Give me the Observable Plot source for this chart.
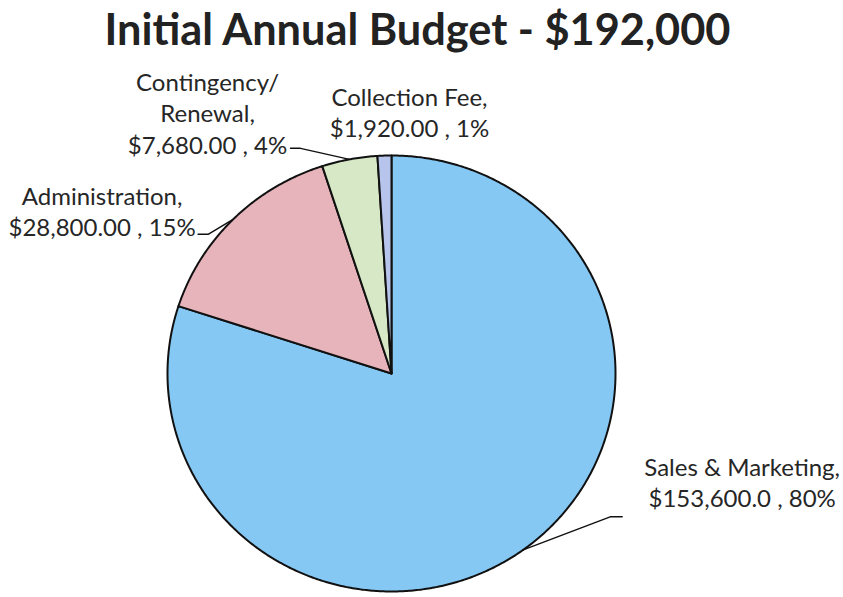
<!DOCTYPE html>
<html>
<head>
<meta charset="utf-8">
<script src="https://cdn.jsdelivr.net/npm/d3@7"></script>
<script src="https://cdn.jsdelivr.net/npm/@observablehq/plot@0.6"></script>
<style>
  html, body { margin: 0; padding: 0; background: #ffffff; }
  #wrap { position: relative; width: 843px; height: 597px; overflow: hidden; }
  #title { position: absolute; left: 0; top: 7px; width: 843px; height: 62px; text-align: center;
           font-family: Lato, sans-serif; font-weight: 700; font-size: 43.3px; line-height: 43px; color: #222222;
           padding-right: 8px; box-sizing: border-box; }
  #chart { position: absolute; left: 0; top: 62px; }
</style>
</head>
<body>
<div id="wrap">
  <div id="title"></div>
  <div id="chart"></div>
</div>
<script>
// ---- data ----
const titleText = "Initial Annual Budget - $192,000";
const categories = ["Sales & Marketing", "Administration", "Contingency/ Renewal", "Collection Fee"];
const amounts = [153600, 28800, 7680, 1920];
const labelTexts = [
  "Sales & Marketing,\n$153,600.0 , 80%",
  "Administration,\n$28,800.00 , 15%",
  "Contingency/\nRenewal,\n$7,680.00 , 4%",
  "Collection Fee,\n$1,920.00 , 1%"
];
const colors = ["#86C8F4", "#E8B4BB", "#D6E8C6", "#B7C5EC"];

// ---- layout (pixel offsets from each slice's outer mid-point) ----
const RX = 224, RY = 218;
const labelOffset = [[219, -68], [-131, -9], [-142, -47], [25, -44]];
const leaderOffset = [[[87, -33], [99, -33]], [[-25, 15], [-35, 15]], [[-49, -11], [-59, -11]], null];

document.getElementById("title").textContent = titleText;

const arcs = d3.pie().sort(null).value(d => d)(amounts);
const marks = [];
arcs.forEach((a, i) => {
  const pts = [{x: 0, y: 0}];
  const n = Math.max(2, Math.ceil((a.endAngle - a.startAngle) / (Math.PI / 360)));
  for (let k = 0; k <= n; k++) {
    const t = a.startAngle + (a.endAngle - a.startAngle) * k / n;
    pts.push({x: Math.sin(t), y: Math.cos(t)});
  }
  pts.push({x: 0, y: 0});
  marks.push(Plot.line(pts, {x: "x", y: "y", fill: colors[i], stroke: "#111", strokeWidth: 2, curve: "linear"}));
});
arcs.forEach((a, i) => {
  const m = (a.startAngle + a.endAngle) / 2;
  const px = Math.sin(m), py = Math.cos(m);
  if (leaderOffset[i]) {
    const pts = [{x: px, y: py}].concat(leaderOffset[i].map(([dx, dy]) => ({x: px + dx / RX, y: py - dy / RY})));
    marks.push(Plot.line(pts, {x: "x", y: "y", stroke: "#111", strokeWidth: 1.5}));
  }
  const [ox, oy] = labelOffset[i];
  marks.push(Plot.text([{x: px + ox / RX, y: py - oy / RY, t: labelTexts[i]}], {
    x: "x", y: "y", text: "t", fontSize: 24, lineHeight: 1.3, textAnchor: "middle", lineAnchor: "middle",
    fill: "#262626", fontFamily: "Lato"
  }));
});

const chart = Plot.plot({
  width: 843,
  height: 535,
  margin: 0,
  style: {fontFamily: "Lato", background: "#ffffff"},
  x: {domain: [-1, 1], range: [391 - RX, 391 + RX], axis: null},
  y: {domain: [-1, 1], range: [311 + RY, 311 - RY], axis: null},
  marks
});
document.getElementById("chart").appendChild(chart);
</script>
</body>
</html>
